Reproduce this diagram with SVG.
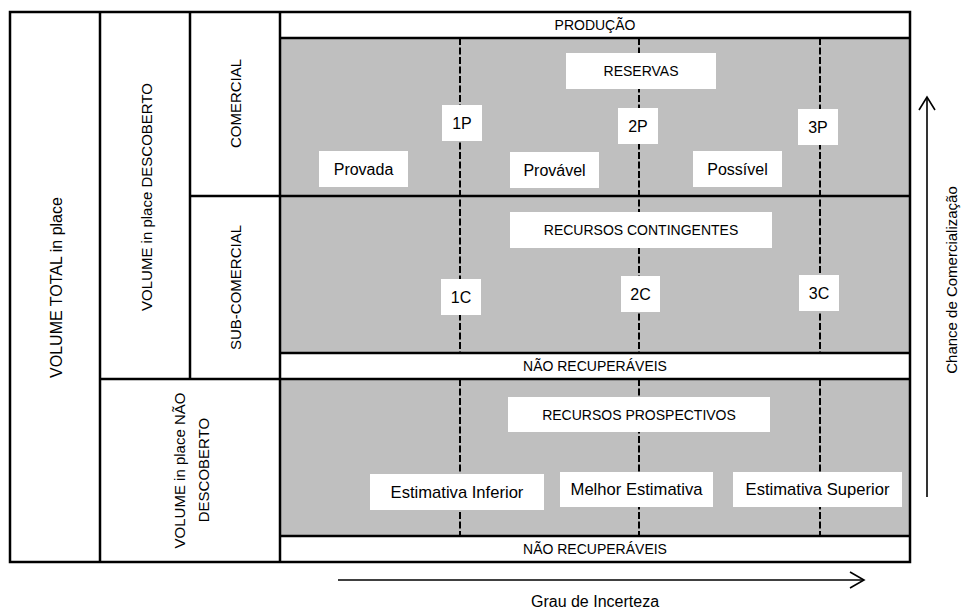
<svg xmlns="http://www.w3.org/2000/svg" width="962" height="610" viewBox="0 0 962 610">
  <style>
    text { font-family: "Liberation Sans", Arial, sans-serif; fill: #000; text-anchor: middle; dominant-baseline: central; }
    .cap { font-size: 14px; }
    .mix { font-size: 16px; }
    .est { font-size: 16.6px; }
    .side { font-size: 15px; }
    .frame { fill: none; stroke: #000; stroke-width: 2.5; }
    .rule { stroke: #000; stroke-width: 2.5; fill: none; }
    .band { fill: #bfbfbf; }
    .tag { fill: #fff; }
    .dash { stroke: #000; stroke-width: 2; stroke-dasharray: 7 2.5; fill: none; }
    .axis { stroke: #000; stroke-width: 1.6; fill: none; }
  </style>

  <!-- shaded resource bands -->
  <rect class="band" x="280" y="38" width="630" height="315"/>
  <rect class="band" x="280" y="379" width="630" height="157"/>

  <!-- uncertainty boundaries -->
  <g id="boundaries">
    <line class="dash" x1="460" y1="38" x2="460" y2="353"/>
    <line class="dash" x1="639" y1="38" x2="639" y2="353"/>
    <line class="dash" x1="820" y1="38" x2="820" y2="353"/>
    <line class="dash" x1="460" y1="379" x2="460" y2="536"/>
    <line class="dash" x1="639" y1="379" x2="639" y2="536"/>
    <line class="dash" x1="820" y1="379" x2="820" y2="536"/>
  </g>

  <!-- table grid -->
  <g id="grid">
    <rect class="frame" x="10" y="12" width="900" height="550"/>
    <line class="rule" x1="100" y1="12" x2="100" y2="562"/>
    <line class="rule" x1="190" y1="12" x2="190" y2="379"/>
    <line class="rule" x1="280" y1="12" x2="280" y2="562"/>
    <line class="rule" x1="100" y1="379" x2="910" y2="379"/>
    <line class="rule" x1="190" y1="196" x2="910" y2="196"/>
    <line class="rule" x1="280" y1="38" x2="910" y2="38"/>
    <line class="rule" x1="280" y1="353" x2="910" y2="353"/>
    <line class="rule" x1="280" y1="536" x2="910" y2="536"/>
  </g>

  <!-- row headers -->
  <g id="volume-total">
    <text class="side" style="font-size:16px" transform="translate(56,287.5) rotate(-90)">VOLUME TOTAL in place</text>
  </g>
  <g id="volume-descoberto">
    <text class="side" transform="translate(146,197) rotate(-90)">VOLUME in place DESCOBERTO</text>
  </g>
  <g id="volume-nao-descoberto">
    <text class="side" transform="translate(179,470.5) rotate(-90)">VOLUME in place NÃO</text>
    <text class="side" transform="translate(203,470) rotate(-90)">DESCOBERTO</text>
  </g>
  <g id="comercial">
    <text class="side" transform="translate(235.5,103.5) rotate(-90)">COMERCIAL</text>
  </g>
  <g id="sub-comercial">
    <text class="side" transform="translate(235.5,287.5) rotate(-90)">SUB-COMERCIAL</text>
  </g>

  <!-- band titles -->
  <g id="producao"><text class="cap" x="595" y="25">PRODUÇÃO</text></g>
  <g id="nao-recuperaveis-1"><text class="cap" x="595" y="366">NÃO RECUPERÁVEIS</text></g>
  <g id="nao-recuperaveis-2"><text class="cap" x="595" y="549">NÃO RECUPERÁVEIS</text></g>

  <!-- reserves -->
  <g id="reservas">
    <rect class="tag" x="566" y="53" width="150" height="36"/>
    <text class="cap" x="641" y="71">RESERVAS</text>
  </g>
  <g id="p1"><rect class="tag" x="442" y="105" width="40" height="36"/><text class="mix" x="462" y="123.5">1P</text></g>
  <g id="p2"><rect class="tag" x="618" y="108" width="40" height="36"/><text class="mix" x="638" y="126.5">2P</text></g>
  <g id="p3"><rect class="tag" x="798" y="109" width="40" height="36"/><text class="mix" x="818" y="127.5">3P</text></g>
  <g id="provada"><rect class="tag" x="319" y="151" width="89" height="36"/><text class="mix" x="363.5" y="169">Provada</text></g>
  <g id="provavel"><rect class="tag" x="510" y="152" width="89" height="36"/><text class="mix" x="554.5" y="170">Provável</text></g>
  <g id="possivel"><rect class="tag" x="693" y="151" width="89" height="36"/><text class="mix" x="737.5" y="169">Possível</text></g>

  <!-- contingent resources -->
  <g id="contingentes">
    <rect class="tag" x="510" y="212" width="262" height="36"/>
    <text class="cap" x="641" y="230">RECURSOS CONTINGENTES</text>
  </g>
  <g id="c1"><rect class="tag" x="441" y="279" width="40" height="36"/><text class="mix" x="461" y="297">1C</text></g>
  <g id="c2"><rect class="tag" x="621" y="276" width="39" height="36"/><text class="mix" x="640.5" y="294">2C</text></g>
  <g id="c3"><rect class="tag" x="799" y="275" width="40" height="36"/><text class="mix" x="819" y="293">3C</text></g>

  <!-- prospective resources -->
  <g id="prospectivos">
    <rect class="tag" x="508" y="397" width="262" height="35"/>
    <text class="cap" x="639" y="414.5">RECURSOS PROSPECTIVOS</text>
  </g>
  <g id="estimativa-inferior"><rect class="tag" x="370" y="474" width="174" height="36"/><text class="est" x="457" y="492">Estimativa Inferior</text></g>
  <g id="melhor-estimativa"><rect class="tag" x="560" y="472" width="153" height="35"/><text class="est" x="636.5" y="489.5">Melhor Estimativa</text></g>
  <g id="estimativa-superior"><rect class="tag" x="733" y="472" width="169" height="35"/><text class="est" x="817.5" y="489.5">Estimativa Superior</text></g>

  <!-- axes -->
  <g id="connectors">
    <line class="axis" x1="927" y1="497" x2="927" y2="98"/>
    <polyline class="axis" points="919,110 927,97 935,110"/>
    <line class="axis" x1="338" y1="580" x2="863" y2="580"/>
    <polyline class="axis" points="850,572 864,580 850,588"/>
  </g>
  <g id="chance-label">
    <text class="side" transform="translate(951.5,280) rotate(-90)">Chance de Comercialização</text>
  </g>
  <g id="incerteza-label">
    <text class="mix" x="595" y="601">Grau de Incerteza</text>
  </g>
</svg>
